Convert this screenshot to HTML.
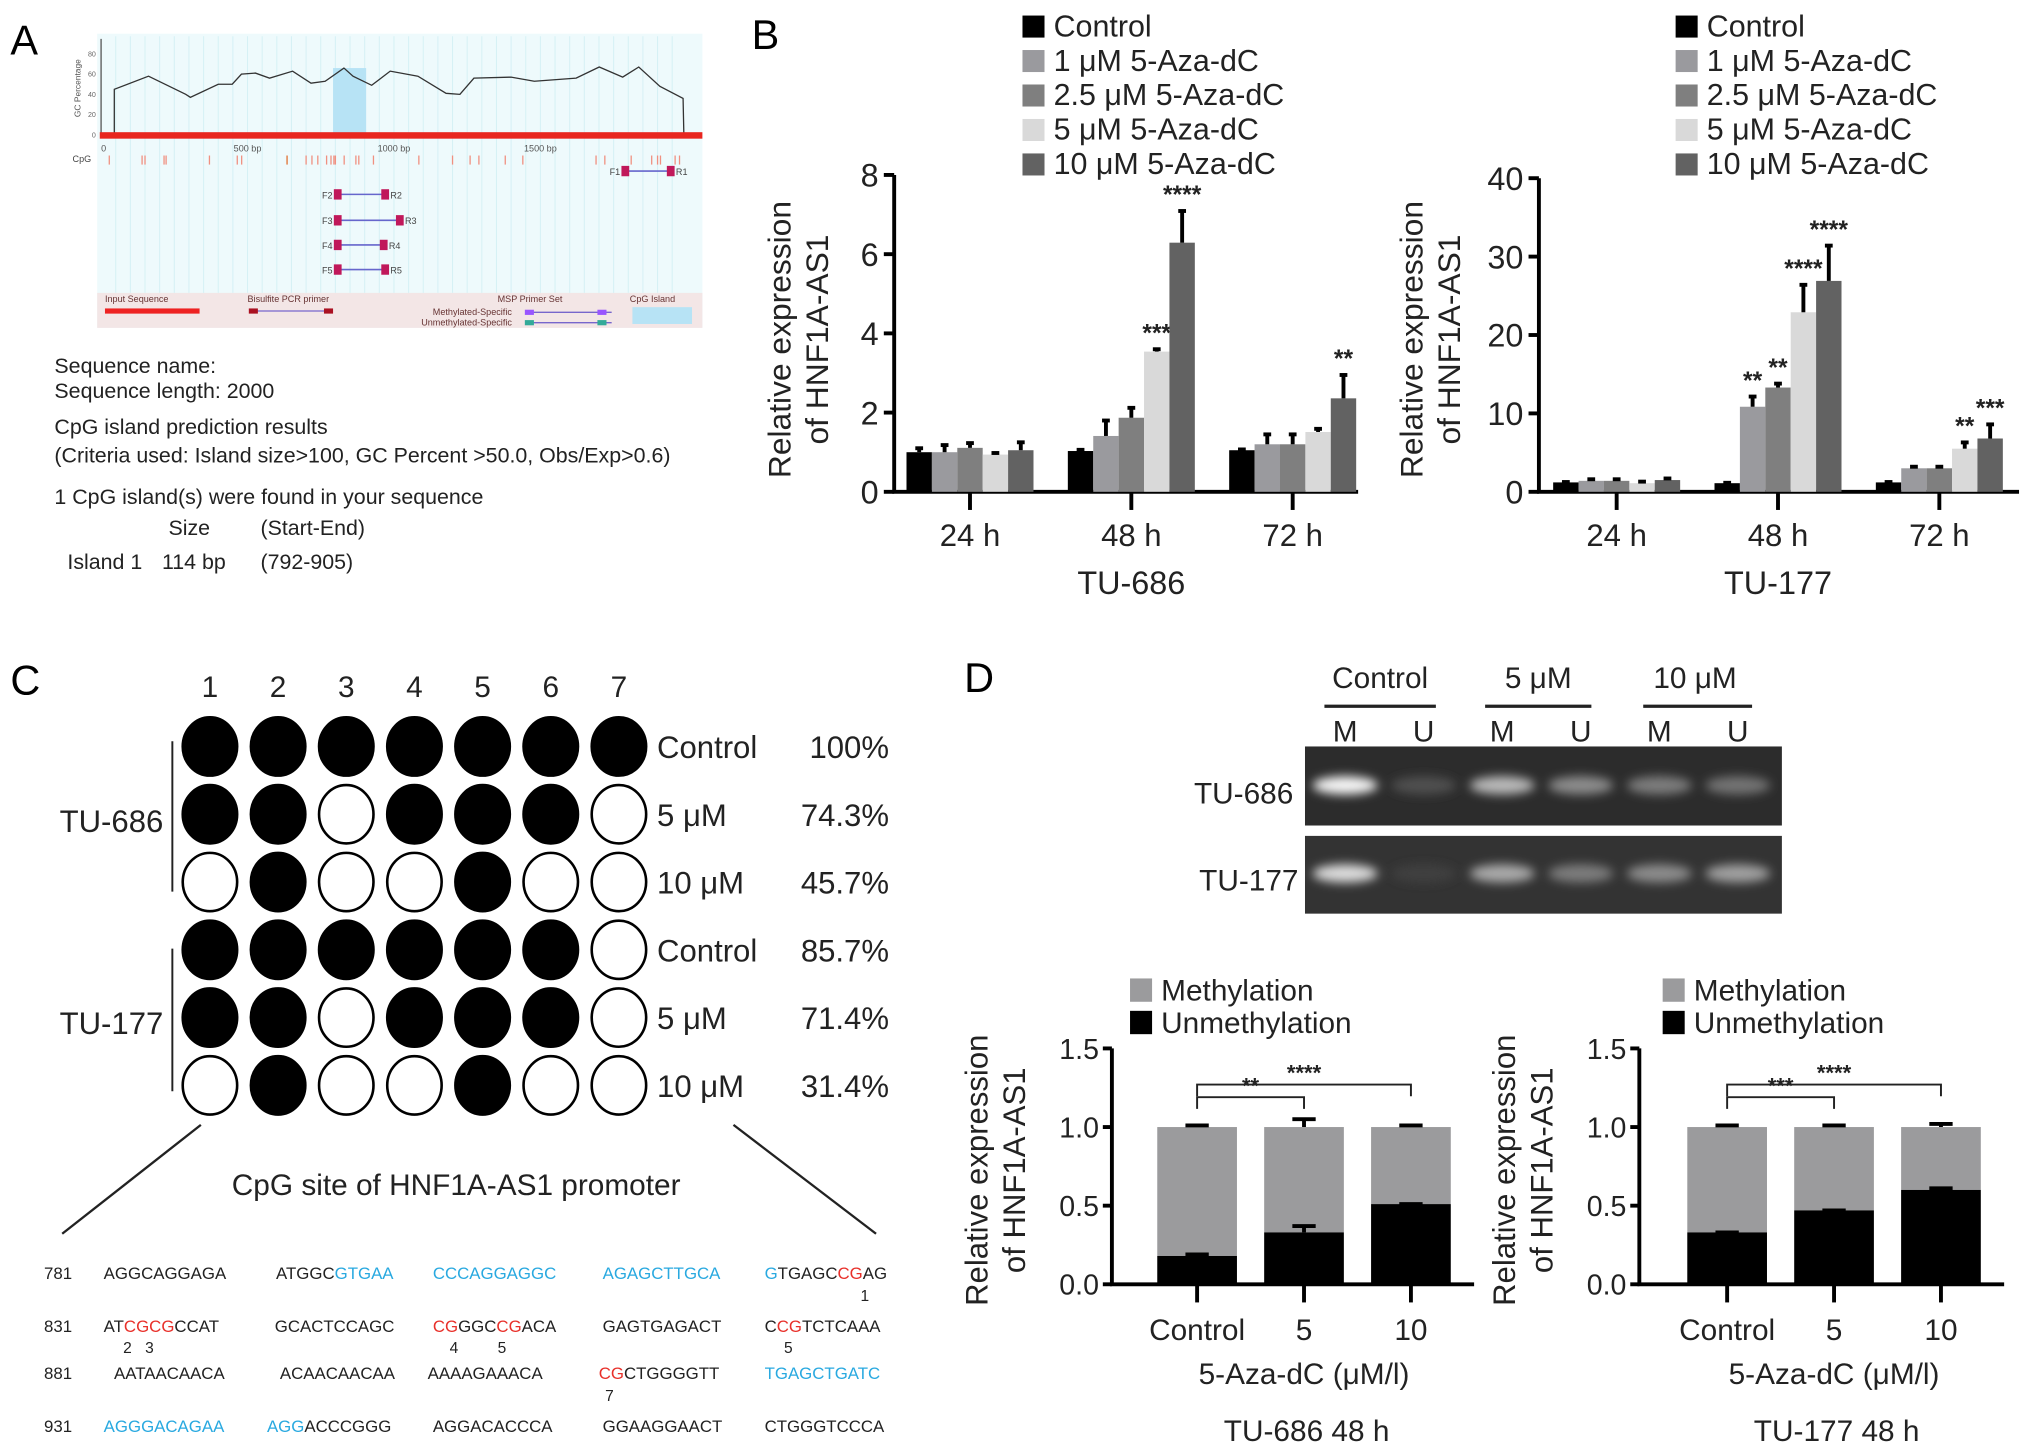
<!DOCTYPE html>
<html><head><meta charset="utf-8">
<style>
html,body{margin:0;padding:0;background:#fff;}
svg{display:block;font-family:"Liberation Sans",Arial,sans-serif;}
</style></head>
<body>
<svg id="fig" xmlns="http://www.w3.org/2000/svg" width="2032" height="1456" viewBox="0 0 1568 1123.5" preserveAspectRatio="none">
<defs>
<filter id="blur" x="-50%" y="-100%" width="200%" height="300%"><feGaussianBlur stdDeviation="4"/></filter>
</defs>
<rect x="0" y="0" width="1568" height="1124" fill="#fff"/>
<text x="8" y="42" font-size="32">A</text>
<text x="580" y="38" font-size="32">B</text>
<text x="8" y="536" font-size="32">C</text>
<text x="744" y="534" font-size="32">D</text>

<g id="panelA">
<rect x="75" y="26" width="467" height="227" fill="#eefafc"/>
<g id="aGrid"></g>
<rect x="75" y="226" width="467" height="27" fill="#f3e6e6"/>
<line x1="78" y1="30" x2="78" y2="106" stroke="#555" stroke-width="1"/>
<text x="62" y="68" font-size="6.5" fill="#555" transform="rotate(-90 62 68)" text-anchor="middle">GC Percentage</text>
<g id="aChart"></g>
<text x="56" y="125" font-size="7" fill="#444">CpG</text>
<text x="81" y="233" font-size="7" fill="#633">Input Sequence</text>
<rect x="81" y="238" width="73" height="4" fill="#e22"/>
<text x="191" y="233" font-size="7" fill="#633">Bisulfite PCR primer</text>
<line x1="194" y1="240" x2="255" y2="240" stroke="#76c" stroke-width="1"/>
<rect x="192" y="238" width="7" height="4" fill="#a12"/><rect x="250" y="238" width="7" height="4" fill="#a12"/>
<text x="384" y="233" font-size="7" fill="#633">MSP Primer Set</text>
<text x="395" y="243" font-size="7" fill="#633" text-anchor="end">Methylated-Specific</text>
<text x="395" y="251" font-size="7" fill="#633" text-anchor="end">Unmethylated-Specific</text>
<line x1="409" y1="241" x2="472" y2="241" stroke="#76c"/><rect x="405" y="239" width="7" height="4" fill="#95f"/><rect x="461" y="239" width="7" height="4" fill="#95f"/>
<line x1="409" y1="249" x2="472" y2="249" stroke="#76c"/><rect x="405" y="247" width="7" height="4" fill="#3a9"/><rect x="461" y="247" width="7" height="4" fill="#3a9"/>
<text x="486" y="233" font-size="7" fill="#633">CpG Island</text>
<rect x="488" y="237" width="46" height="13" fill="#b7e3f5"/>
</g>
<g font-size="16.5" fill="#222">
<text x="42" y="288">Sequence name:</text>
<text x="42" y="307">Sequence length: 2000</text>
<text x="42" y="335">CpG island prediction results</text>
<text x="42" y="357">(Criteria used: Island size&gt;100, GC Percent &gt;50.0, Obs/Exp&gt;0.6)</text>
<text x="42" y="389">1 CpG island(s) were found in your sequence</text>
<text x="130" y="413">Size</text><text x="201" y="413">(Start-End)</text>
<text x="52" y="439">Island 1</text><text x="125" y="439">114 bp</text><text x="201" y="439">(792-905)</text>
</g>

<g id="panelB"></g>
<g id="panelC"></g>
<g id="seq" font-size="13" fill="#222">
<text x="34" y="987">781</text>
<text x="80" y="987">AGGCAGGAGA</text>
<text x="213" y="987">ATGGC<tspan fill="#29a9e0">GTGAA</tspan></text>
<text x="334" y="987" fill="#29a9e0">CCCAGGAGGC</text>
<text x="465" y="987" fill="#29a9e0">AGAGCTTGCA</text>
<text x="590" y="987"><tspan fill="#29a9e0">G</tspan>TGAGC<tspan fill="#e8302a">CG</tspan>AG</text>
<text x="664" y="1004" font-size="12">1</text>
<text x="34" y="1028">831</text>
<text x="80" y="1028">AT<tspan fill="#e8302a">CGCG</tspan>CCAT</text>
<text x="212" y="1028">GCACTCCAGC</text>
<text x="334" y="1028"><tspan fill="#e8302a">CG</tspan>GGC<tspan fill="#e8302a">CG</tspan>ACA</text>
<text x="465" y="1028">GAGTGAGACT</text>
<text x="590" y="1028">C<tspan fill="#e8302a">CG</tspan>TCTCAAA</text>
<text x="95" y="1044" font-size="12">2</text><text x="112" y="1044" font-size="12">3</text>
<text x="347" y="1044" font-size="12">4</text><text x="384" y="1044" font-size="12">5</text>
<text x="605" y="1044" font-size="12">5</text>
<text x="34" y="1064">881</text>
<text x="88" y="1064">AATAACAACA</text>
<text x="216" y="1064">ACAACAACAA</text>
<text x="330" y="1064">AAAAGAAACA</text>
<text x="462" y="1064"><tspan fill="#e8302a">CG</tspan>CTGGGGTT</text>
<text x="590" y="1064" fill="#29a9e0">TGAGCTGATC</text>
<text x="467" y="1081" font-size="12">7</text>
<text x="34" y="1105">931</text>
<text x="80" y="1105" fill="#29a9e0">AGGGACAGAA</text>
<text x="206" y="1105"><tspan fill="#29a9e0">AGG</tspan>ACCCGGG</text>
<text x="334" y="1105">AGGACACCCA</text>
<text x="465" y="1105">GGAAGGAACT</text>
<text x="590" y="1105">CTGGGTCCCA</text>
</g>

<g id="gel">
<g font-size="23" fill="#222" text-anchor="middle">
<text x="1065" y="531">Control</text>
<text x="1187" y="531">5 μM</text>
<text x="1308" y="531">10 μM</text>
</g>
<g stroke="#222" stroke-width="2.5">
<line x1="1022" y1="545" x2="1108" y2="545"/><line x1="1146" y1="545" x2="1228" y2="545"/><line x1="1268" y1="545" x2="1352" y2="545"/>
</g>
<g id="gelLanes" font-size="23" fill="#222" text-anchor="middle"></g>
<rect x="1007" y="576" width="368" height="61" fill="#2c2c2c"/>
<rect x="1007" y="645" width="368" height="60" fill="#333"/>
<g id="gelBands" filter="url(#blur)"></g>
<text x="998" y="620" font-size="23" text-anchor="end" fill="#222">TU-686</text>
<text x="1002" y="687" font-size="23" text-anchor="end" fill="#222">TU-177</text>
</g>
<g id="panelD"></g>
</svg>
<script>
const gcPos=[45,45,162,289,305,400,448,479,527,575,654,717,765,829,860,924,987,1082,1178,1225,1273,1400,1479,1622,1701,1781,1836,1908,1987,1990];
const gcVal=[0,45,58,40,37,50,50,60,61,56,63,51,53,66,58,49,63,58,41,40,56,57,53,56,67,57,67,48,36,0];
const islandRange=[792,905];
const cpgSites=[28,140,150,215,222,370,465,480,635,700,720,740,770,785,795,800,830,870,880,930,1085,1200,1260,1290,1380,1440,1880,1900,1910,1960,1975,1690,1720,1810];
const primerNames=["1","2","3","4","5"];
const primerStart=[1790,808,808,808,808];
const primerEnd=[1945,970,1020,965,970];
const gcTicks=[0,20,40,60,80];
const bpTicks=[0,500,1000,1500];

const NS="http://www.w3.org/2000/svg";
function mk(tag,parent){const e=document.createElementNS(NS,tag);parent.appendChild(e);return e;}
function at(e,o){for(const k in o)e.setAttribute(k,o[k]);return e;}

(function(){
  const g=document.getElementById('aChart');
  const grid=document.getElementById('aGrid');
  const xA=bp=>78+bp*(452/2000);
  const yA=v=>104-v*0.78;
  for(let bp=50;bp<2000;bp+=50){const l=mk('line',grid);at(l,{x1:xA(bp),x2:xA(bp),y1:28,y2:226,stroke:'#d6f1f5','stroke-width':0.8});
    
    }
  const isl=mk('rect',g);at(isl,{x:xA(islandRange[0]),y:yA(66),width:xA(islandRange[1])-xA(islandRange[0]),height:yA(0)-yA(66),fill:'#b7e3f5'});
  
  
  let d='';gcPos.forEach((p,i)=>{d+=(i?'L':'M')+xA(p).toFixed(1)+' '+yA(gcVal[i]).toFixed(1);});
  const ln=mk('path',g);at(ln,{d:d,fill:'none',stroke:'#333','stroke-width':1});
  
  
  const red=mk('rect',g);at(red,{x:77,y:102,width:465,height:5,fill:'#e8261f'});
  
  
  gcTicks.forEach(v=>{const t=mk('text',g);at(t,{x:74,y:yA(v)+2,'font-size':5.5,'text-anchor':'end',fill:'#666'});t.textContent=v;
    
    });
  bpTicks.forEach(v=>{const t=mk('text',g);at(t,{x:xA(v)+(v?0:2),y:117,'font-size':7,'text-anchor':'middle',fill:'#555'});t.textContent=v?v+' bp':'0';
    
    });
  cpgSites.forEach(p=>{const l=mk('line',g);at(l,{x1:xA(p),x2:xA(p),y1:120,y2:127,stroke:(p>600&&p<700)?'#e07030':'#f09080','stroke-width':1});
    
    });
  const pys=[132,150,170,189,208];
  primerNames.forEach((n,i)=>{
    const x1=xA(primerStart[i]),x2=xA(primerEnd[i]),y=pys[i];
    const l=mk('line',g);at(l,{x1:x1,x2:x2,y1:y,y2:y,stroke:'#66c','stroke-width':1.2});
    
    
    [x1,x2].forEach(x=>{const r=mk('rect',g);at(r,{x:x-3,y:y-4,width:6,height:8,fill:'#c0185a'});
      
      });
    const f=mk('text',g);at(f,{x:x1-4,y:y+3,'font-size':7,'text-anchor':'end',fill:'#444'});f.textContent='F'+n;
    
    
    const r2=mk('text',g);at(r2,{x:x2+4,y:y+3,'font-size':7,fill:'#444'});r2.textContent='R'+n;
    
    
  });
})();

const bTimes=["24 h","48 h","72 h"];
const bSeriesNames=["Control","1 μM 5-Aza-dC","2.5 μM 5-Aza-dC","5 μM 5-Aza-dC","10 μM 5-Aza-dC"];
const b686Vals=[[1.0,1.0,1.11,0.94,1.05],[1.03,1.41,1.87,3.54,6.29],[1.05,1.2,1.2,1.51,2.36]];
const b686Err=[[0.1,0.18,0.12,0.04,0.2],[0.03,0.39,0.25,0.06,0.8],[0.02,0.25,0.25,0.08,0.59]];
const b686Stars=[["","","","",""],["","","","***","****"],["","","","","**"]];
const b686Ticks=[0,2,4,6,8];
const b177Vals=[[1.2,1.4,1.4,1.1,1.5],[1.1,10.85,13.3,22.9,26.9],[1.2,3.0,3.0,5.5,6.8]];
const b177Err=[[0.05,0.2,0.2,0.2,0.2],[0.05,1.3,0.5,3.5,4.5],[0.05,0.2,0.2,0.8,1.8]];
const b177Stars=[["","","","",""],["","**","**","****","****"],["","","","**","***"]];
const b177Ticks=[0,10,20,30,40];
const bColors=["#000","#9a9a9e","#7f7f7f","#d9d9d9","#626262"];

function barChart(cfg){
  const g=document.getElementById('panelB');
  const y=v=>cfg.y0-v*(cfg.y0-cfg.yTop)/cfg.max;
  const bw=19.6;
  const ax=mk('path',g);at(ax,{d:`M${cfg.ax} ${cfg.yTop} L${cfg.ax} ${cfg.y0} L${cfg.xEnd} ${cfg.y0}`,fill:'none',stroke:'#000','stroke-width':3});
  
  
  cfg.ticks.forEach(t=>{
    const l=mk('line',g);at(l,{x1:cfg.ax-8,x2:cfg.ax,y1:y(t),y2:y(t),stroke:'#000','stroke-width':3});
    
    
    const tx=mk('text',g);at(tx,{x:cfg.ax-12,y:y(t)+9,'font-size':25,'text-anchor':'end',fill:'#222'});tx.textContent=t;
    
    
  });
  cfg.vals.forEach((grp,gi)=>{
    const start=cfg.g0+gi*cfg.gs;
    const cx=start+bw*2.5;
    const tk=mk('line',g);at(tk,{x1:cx,x2:cx,y1:cfg.y0,y2:cfg.y0+14,stroke:'#000','stroke-width':3});
    
    
    const lb=mk('text',g);at(lb,{x:cx,y:cfg.y0+42,'font-size':24,'text-anchor':'middle',fill:'#222'});lb.textContent=bTimes[gi];
    
    
    grp.forEach((v,si)=>{
      const x=start+si*bw;
      const r=mk('rect',g);at(r,{x:x,y:y(v),width:bw,height:cfg.y0-y(v),fill:bColors[si]});
      
      
      const e=cfg.err[gi][si];
      const el=mk('line',g);at(el,{x1:x+bw/2,x2:x+bw/2,y1:y(v),y2:y(v+e),stroke:'#000','stroke-width':3});
      
      
      const ec=mk('line',g);at(ec,{x1:x+bw/2-3,x2:x+bw/2+3,y1:y(v+e),y2:y(v+e),stroke:'#000','stroke-width':3});
      
      
      const s=cfg.stars[gi][si];
      if(s){const st=mk('text',g);at(st,{x:x+bw/2,y:y(v+e)-6,'font-size':19,'text-anchor':'middle',fill:'#222','font-weight':'bold'});st.textContent=s;
        
        }
    });
  });
  const tx1=cfg.ax-cfg.t1, tx2=cfg.ax-cfg.t2;
  const t1=mk('text',g);at(t1,{x:tx1,y:cfg.titleY,'font-size':24.5,'text-anchor':'middle',fill:'#222',transform:`rotate(-90 ${tx1} ${cfg.titleY})`});t1.textContent='Relative expression';
  
  
  const t2=mk('text',g);at(t2,{x:tx2,y:cfg.titleY,'font-size':24.5,'text-anchor':'middle',fill:'#222',transform:`rotate(-90 ${tx2} ${cfg.titleY})`});t2.textContent='of HNF1A-AS1';
  
  
  const cl=mk('text',g);at(cl,{x:cfg.g0+cfg.gs+bw*2.5,y:cfg.y0+79,'font-size':25,'text-anchor':'middle',fill:'#222'});cl.textContent=cfg.title;
  
  
  bSeriesNames.forEach((n,i)=>{
    const yy=20+i*26.6;
    const sq=mk('rect',g);at(sq,{x:cfg.legX,y:yy-8,width:17,height:17,fill:bColors[i]});
    
    
    const lt=mk('text',g);at(lt,{x:cfg.legX+24,y:yy+8,'font-size':23.5,fill:'#222'});lt.textContent=n;
    
    
  });
}
barChart({id:'tu686',vals:b686Vals,err:b686Err,stars:b686Stars,ticks:b686Ticks,max:8,ax:690,y0:379.5,yTop:135,xEnd:1048,g0:699.5,gs:124.5,titleY:262,title:'TU-686',legX:789,t1:80,t2:51});
barChart({id:'tu177',vals:b177Vals,err:b177Err,stars:b177Stars,ticks:b177Ticks,max:40,ax:1187.5,y0:379.5,yTop:137.5,xEnd:1558,g0:1198.5,gs:124.5,titleY:262,title:'TU-177',legX:1293,t1:90,t2:61});

const cSites=["1","2","3","4","5","6","7"];
const cRowLabels=["Control","5 μM","10 μM","Control","5 μM","10 μM"];
const cPercents=["100%","74.3%","45.7%","85.7%","71.4%","31.4%"];
const cMeth=[[1,1,1,1,1,1,1],[1,1,0,1,1,1,0],[0,1,0,0,1,0,0],[1,1,1,1,1,1,0],[1,1,0,1,1,1,0],[0,1,0,0,1,0,0]];
(function(){
  const g=document.getElementById('panelC');
  const xs=i=>162+i*52.6;
  const ys=j=>576+j*52.3;
  cSites.forEach((s,i)=>{const t=mk('text',g);at(t,{x:xs(i),y:538,'font-size':23,'text-anchor':'middle',fill:'#222'});t.textContent=s;
    
    });
  cMeth.forEach((row,j)=>{
    row.forEach((m,i)=>{const c=mk('ellipse',g);at(c,{cx:xs(i),cy:ys(j),rx:21,ry:22.5,fill:m?'#000':'#fff',stroke:'#000','stroke-width':2});
      
      });
    const l=mk('text',g);at(l,{x:507,y:ys(j)+9,'font-size':24,fill:'#222'});l.textContent=cRowLabels[j];
    
    
    const p=mk('text',g);at(p,{x:686,y:ys(j)+9,'font-size':24,'text-anchor':'end',fill:'#222'});p.textContent=cPercents[j];
    
    
  });
  [['TU-686',634,572,688],['TU-177',790,732,842]].forEach(a=>{
    const t=mk('text',g);at(t,{x:126,y:a[1]+8,'font-size':24,'text-anchor':'end',fill:'#222'});t.textContent=a[0];
    
    
    const l=mk('line',g);at(l,{x1:133,x2:133,y1:a[2],y2:a[3],stroke:'#222','stroke-width':1.5});
    
    
  });
  const l1=mk('line',g);at(l1,{x1:155,y1:868,x2:48,y2:952,stroke:'#222','stroke-width':1.8});
  
  
  const l2=mk('line',g);at(l2,{x1:566,y1:868,x2:676,y2:952,stroke:'#222','stroke-width':1.8});
  
  
  const t=mk('text',g);at(t,{x:352,y:922,'font-size':23,'text-anchor':'middle',fill:'#222'});t.textContent='CpG site of HNF1A-AS1 promoter';
  
  
})();

const gelLanes=["M","U","M","U","M","U"];
const gel686=[245,80,185,140,125,115];
const gel177=[220,65,170,125,140,160];
(function(){
  const lg=document.getElementById('gelLanes');
  const bg=document.getElementById('gelBands');
  const lx=i=>1038+i*60.6;
  gelLanes.forEach((n,i)=>{
    const t=mk('text',lg);at(t,{x:lx(i),y:572});t.textContent=n;
    
    
    [[gel686[i],606],[gel177[i],674]].forEach(b=>{
      const v=b[0];
      const e=mk('ellipse',bg);at(e,{cx:lx(i),cy:b[1],rx:25,ry:7,fill:`rgb(${v},${v},${v})`});
      
      
    });
  });
})();

const dGroups=["Control","5","10"];
const d686Unmeth=[0.18,0.33,0.51];
const d686Total=[1.0,1.0,1.0];
const d686UErr=[0.01,0.04,0.0];
const d686TErr=[0.01,0.05,0.01];
const d177Unmeth=[0.33,0.47,0.6];
const d177Total=[1.0,1.0,1.0];
const d177UErr=[0.0,0.0,0.01];
const d177TErr=[0.01,0.01,0.02];
const dTicks=["0.0","0.5","1.0","1.5"];
const d686Brackets=[["**",0,1,1.19],["****",0,2,1.27]];
const d177Brackets=[["***",0,1,1.19],["****",0,2,1.27]];

function stacked(cfg){
  const g=document.getElementById('panelD');
  const y=v=>cfg.y0-v*(cfg.y0-cfg.yTop)/1.5;
  const bw=61.5, gs=82.5;
  const cx=i=>cfg.b0+bw/2+i*gs;
  const ax=mk('path',g);at(ax,{d:`M${cfg.ax} ${cfg.yTop} L${cfg.ax} ${cfg.y0} L${cfg.b0+2*gs+bw+18} ${cfg.y0}`,fill:'none',stroke:'#000','stroke-width':3});
  
  
  dTicks.forEach(t=>{
    const v=parseFloat(t);
    const l=mk('line',g);at(l,{x1:cfg.ax-7,x2:cfg.ax,y1:y(v),y2:y(v),stroke:'#000','stroke-width':3});
    
    
    const tx=mk('text',g);at(tx,{x:cfg.ax-10,y:y(v)+8,'font-size':22,'text-anchor':'end',fill:'#222'});tx.textContent=t;
    
    
  });
  dGroups.forEach((n,i)=>{
    const x=cfg.b0+i*gs;
    const r1=mk('rect',g);at(r1,{x:x,y:y(cfg.total[i]),width:bw,height:y(cfg.unmeth[i])-y(cfg.total[i]),fill:'#9b9b9d'});
    
    
    const r2=mk('rect',g);at(r2,{x:x,y:y(cfg.unmeth[i]),width:bw,height:cfg.y0-y(cfg.unmeth[i]),fill:'#000'});
    
    
    [[cfg.total[i],cfg.tErr[i]],[cfg.unmeth[i],cfg.uErr[i]]].forEach(a=>{
      const e=mk('path',g);at(e,{d:`M${cx(i)} ${y(a[0])} L${cx(i)} ${y(a[0]+a[1])} M${cx(i)-9} ${y(a[0]+a[1])} L${cx(i)+9} ${y(a[0]+a[1])}`,stroke:'#000','stroke-width':3,fill:'none'});
      
      
    });
    const tk=mk('line',g);at(tk,{x1:cx(i),x2:cx(i),y1:cfg.y0,y2:cfg.y0+14,stroke:'#000','stroke-width':3});
    
    
    const lb=mk('text',g);at(lb,{x:cx(i),y:cfg.y0+43,'font-size':23,'text-anchor':'middle',fill:'#222'});lb.textContent=n;
    
    
  });
  cfg.brackets.forEach(b=>{
    const x1=cx(b[1]),x2=cx(b[2]),yy=y(b[3]);
    const p=mk('path',g);at(p,{d:`M${x1} ${yy+9} L${x1} ${yy} L${x2} ${yy} L${x2} ${yy+9}`,fill:'none',stroke:'#222','stroke-width':1.5});
    
    
    const s=mk('text',g);at(s,{x:(x1+x2)/2,y:yy-3,'font-size':17,'text-anchor':'middle',fill:'#222','font-weight':'bold'});s.textContent=b[0];
    
    
  });
  const mid=cx(1);
  const xt=mk('text',g);at(xt,{x:mid,y:cfg.y0+77,'font-size':23,'text-anchor':'middle',fill:'#222'});xt.textContent='5-Aza-dC (μM/l)';
  
  
  const st=mk('text',g);at(st,{x:mid+2,y:cfg.y0+121,'font-size':23,'text-anchor':'middle',fill:'#222'});st.textContent=cfg.title;
  
  
  const t1=mk('text',g);at(t1,{x:cfg.ax-96,y:903,'font-size':24,'text-anchor':'middle',fill:'#222',transform:`rotate(-90 ${cfg.ax-96} 903)`});t1.textContent='Relative expression';
  
  
  const t2=mk('text',g);at(t2,{x:cfg.ax-67,y:903,'font-size':24,'text-anchor':'middle',fill:'#222',transform:`rotate(-90 ${cfg.ax-67} 903)`});t2.textContent='of HNF1A-AS1';
  
  
  [['Methylation','#9b9b9d',764],['Unmethylation','#000',789]].forEach(a=>{
    const sq=mk('rect',g);at(sq,{x:cfg.legX,y:a[2]-9,width:17,height:18,fill:a[1]});
    
    
    const lt=mk('text',g);at(lt,{x:cfg.legX+24,y:a[2]+8,'font-size':23,fill:'#222'});lt.textContent=a[0];
    
    
  });
}
stacked({id:'d-tu686',unmeth:d686Unmeth,total:d686Total,uErr:d686UErr,tErr:d686TErr,brackets:d686Brackets,ax:858,y0:991,yTop:809,b0:893,title:'TU-686 48 h',legX:872});
stacked({id:'d-tu177',unmeth:d177Unmeth,total:d177Total,uErr:d177UErr,tErr:d177TErr,brackets:d177Brackets,ax:1265,y0:991,yTop:809,b0:1302,title:'TU-177 48 h',legX:1283});
</script>
</body></html>
